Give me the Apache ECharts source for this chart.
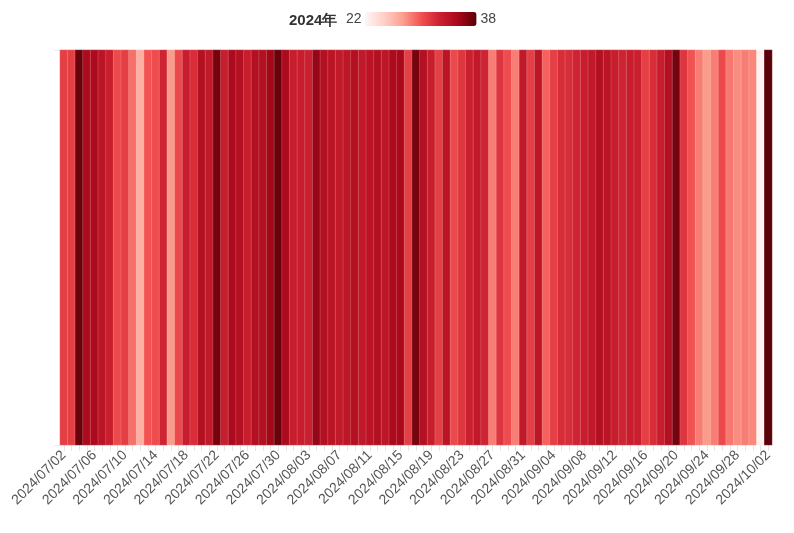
<!DOCTYPE html>
<html>
<head>
<meta charset="utf-8">
<script src="https://cdn.jsdelivr.net/npm/echarts@6/dist/echarts.min.js"></script>
<style>
  html, body { margin: 0; padding: 0; background: #fff; }
  #chart { width: 794px; height: 533px; }
</style>
</head>
<body>
<div id="chart"></div>
<script>
// 日期: 2024/07/02 - 2024/10/02
const days = [
  '2024/07/02', '2024/07/03', '2024/07/04', '2024/07/05', '2024/07/06', '2024/07/07', '2024/07/08',
  '2024/07/09', '2024/07/10', '2024/07/11', '2024/07/12', '2024/07/13', '2024/07/14', '2024/07/15',
  '2024/07/16', '2024/07/17', '2024/07/18', '2024/07/19', '2024/07/20', '2024/07/21', '2024/07/22',
  '2024/07/23', '2024/07/24', '2024/07/25', '2024/07/26', '2024/07/27', '2024/07/28', '2024/07/29',
  '2024/07/30', '2024/07/31', '2024/08/01', '2024/08/02', '2024/08/03', '2024/08/04', '2024/08/05',
  '2024/08/06', '2024/08/07', '2024/08/08', '2024/08/09', '2024/08/10', '2024/08/11', '2024/08/12',
  '2024/08/13', '2024/08/14', '2024/08/15', '2024/08/16', '2024/08/17', '2024/08/18', '2024/08/19',
  '2024/08/20', '2024/08/21', '2024/08/22', '2024/08/23', '2024/08/24', '2024/08/25', '2024/08/26',
  '2024/08/27', '2024/08/28', '2024/08/29', '2024/08/30', '2024/08/31', '2024/09/01', '2024/09/02',
  '2024/09/03', '2024/09/04', '2024/09/05', '2024/09/06', '2024/09/07', '2024/09/08', '2024/09/09',
  '2024/09/10', '2024/09/11', '2024/09/12', '2024/09/13', '2024/09/14', '2024/09/15', '2024/09/16',
  '2024/09/17', '2024/09/18', '2024/09/19', '2024/09/20', '2024/09/21', '2024/09/22', '2024/09/23',
  '2024/09/24', '2024/09/25', '2024/09/26', '2024/09/27', '2024/09/28', '2024/09/29', '2024/09/30',
  '2024/10/01', '2024/10/02'
]

// 每日最高气温 (°C)
const temps = [
  31, 31, 37.5, 35, 35, 34, 33, 30.5, 31, 29, 26.5, 30, 30.3, 32.5,
  27.5, 30.5, 33, 32, 34.5, 33.5, 37, 33, 35, 34.5, 33, 34.5, 34.5, 35.5,
  37.5, 35, 33, 33, 32.8, 36, 34.5, 34, 33.5, 33.8, 34.5, 33.5, 34, 34.5,
  33.8, 35, 35.2, 31, 37, 34.5, 33, 31, 34, 30.5, 31.5, 32.8, 33.5, 32.5,
  28.5, 31.5, 30.3, 28.5, 33.5, 31, 33.8, 29.5, 31, 32, 32, 32.5, 33, 33.5,
  34.5, 34, 33, 32.5, 33, 32.8, 31, 32, 33, 34.5, 37, 31.5, 30, 28.5,
  27.5, 28.5, 30.5, 28.7, 28, 28.5, 28.2, 22.3, 38
]

const yearLabel = '2024年'
const rangeMin = 22
const rangeMax = 38

const chart = echarts.init(document.getElementById('chart'))

const heatData = temps.map((v, i) => [i, 0, v])

const option = {
  animation: false,
  title: {
    text: yearLabel,
    left: 284,
    top: 8,
    textStyle: {
      fontSize: 15,
      fontWeight: 'bold',
      color: '#333'
    }
  },
  visualMap: {
    type: 'continuous',
    min: rangeMin,
    max: rangeMax,
    orient: 'horizontal',
    left: 331,
    top: -3,
    itemWidth: 14,
    itemHeight: 111,
    calculable: false,
    text: [String(rangeMax), String(rangeMin)],
    textGap: 4,
    textStyle: {
      color: '#444',
      fontSize: 14
    },
    inRange: {
      color: ['#fff5f5', '#ffd0c8', '#fca090', '#f25252', '#cc2030', '#a8081a', '#5a0008']
    }
  },
  grid: {
    left: 60,
    right: 22,
    top: 50,
    bottom: 88
  },
  xAxis: {
    type: 'category',
    data: days,
    splitArea: { show: false },
    axisLine: { show: false },
    axisTick: {
      show: true,
      alignWithLabel: true,
      interval: 0,
      length: 6,
      lineStyle: { color: '#e6e6e6' }
    },
    axisLabel: {
      interval: 3,
      rotate: 45,
      fontSize: 14,
      color: '#555',
      margin: 8
    }
  },
  yAxis: {
    type: 'category',
    data: [''],
    axisLine: { show: false },
    axisTick: {
      show: true,
      length: 6,
      lineStyle: { color: '#eeeeee' }
    },
    axisLabel: { show: false }
  },
  series: [
    {
      name: yearLabel,
      type: 'heatmap',
      data: heatData,
      itemStyle: {
        borderColor: 'rgba(255,255,255,0.35)',
        borderWidth: 0.5
      }
    }
  ]
}

chart.setOption(option)
</script>
</body>
</html>
